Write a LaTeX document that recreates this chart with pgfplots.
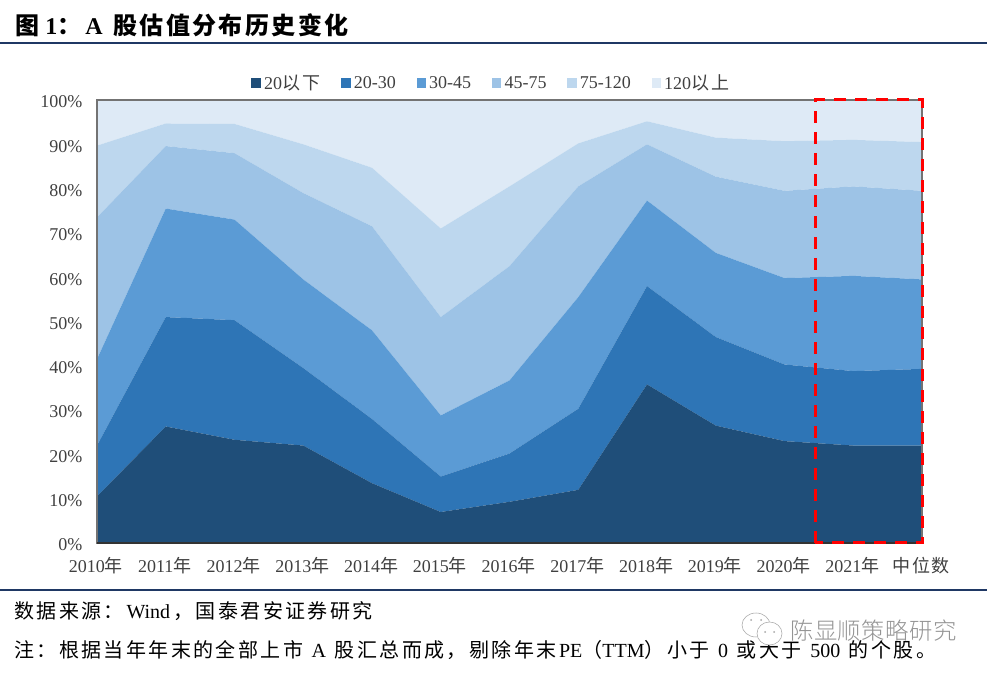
\documentclass[border=0pt]{standalone}
\usepackage{fontspec}
\usepackage{pgfplots}
\pgfplotsset{compat=1.18}
\setmainfont{Liberation Serif}
\newfontfamily\cjk{Noto Sans CJK SC}
\newfontfamily\cjkt[LetterSpace=10]{Noto Sans CJK SC}
\newfontfamily\cjkf[LetterSpace=6]{Noto Sans CJK SC}
\newfontfamily\cjkn[LetterSpace=12]{Noto Sans CJK SC}
\newfontfamily\cjkl[LetterSpace=14]{Noto Sans CJK SC}
\newfontfamily\cjkw[LetterSpace=2]{Noto Sans CJK SC Light}
\definecolor{c1}{HTML}{1F4E79}
\definecolor{c2}{HTML}{2E75B6}
\definecolor{c3}{HTML}{5B9BD5}
\definecolor{c4}{HTML}{9DC3E6}
\definecolor{c5}{HTML}{BDD7EE}
\definecolor{c6}{HTML}{DEEAF6}
\definecolor{rulec}{HTML}{1F3864}
\definecolor{txt}{HTML}{404040}
\newcommand{\gapx}{\hspace{6.5pt}}
\begin{document}
\begin{tikzpicture}[x=0.75pt,y=0.75pt]
\useasboundingbox (0,0) rectangle (987,673);
\fill[white] (0,0) rectangle (987,673);
% title and rules
\node[anchor=west,inner sep=0pt] at (15,648) {\fontsize{18}{20}\selectfont\bfseries{\cjkt\bfseries 图} 1{\cjkt\bfseries ^^^^ff1a}\hspace{3pt}A\hspace{3.5pt} {\cjkt\bfseries 股估值分布历史变化}};
\draw[rulec,line width=1.5pt] (0,630) -- (987,630);
\draw[rulec,line width=1.5pt] (0,83) -- (987,83);
\begin{axis}[
  at={(72.75pt,97.5pt)},anchor=south west,
  scale only axis,
  width=618.75pt,height=332.25pt,
  xmin=0,xmax=12,ymin=0,ymax=100,
  stack plots=y,
  clip=false,
  axis on top,
  axis line style={color=black!55,line width=0.8pt},
  tick style={draw=none},
  xtick={0,1,2,3,4,5,6,7,8,9,10,11,12},
  xticklabels={2010{\cjk 年},2011{\cjk 年},2012{\cjk 年},2013{\cjk 年},2014{\cjk 年},2015{\cjk 年},2016{\cjk 年},2017{\cjk 年},2018{\cjk 年},2019{\cjk 年},2020{\cjk 年},2021{\cjk 年},{\cjkf 中位数}},
  ytick={0,10,20,30,40,50,60,70,80,90,100},
  yticklabels={0\%,10\%,20\%,30\%,40\%,50\%,60\%,70\%,80\%,90\%,100\%},
  tick label style={font=\fontsize{13.5}{16}\selectfont,text=txt},
  yticklabel style={xshift=-7.5pt,yshift=-1.5pt},
  xticklabel style={yshift=-7.5pt,xshift=-0.75pt},
  legend columns=6,
  legend style={at={(0.479,1.038)},anchor=center,draw=none,fill=none,
    font=\fontsize{13.5}{15}\selectfont,text=txt,inner sep=0pt,
    /tikz/every even column/.append style={column sep=13pt},
    nodes={inner sep=2.5pt}},
  legend image code/.code={\fill[#1] (0pt,-3.4pt) rectangle (7pt,3.6pt);},
]
\addplot[fill=c1,draw=none] coordinates {(0,10.5)(1,26.3)(2,23.3)(3,22)(4,13.5)(5,7)(6,9.3)(7,12)(8,35.8)(9,26.5)(10,23)(11,22)(12,22)} \closedcycle;
\addplot[fill=c2,draw=none] coordinates {(0,11.5)(1,24.7)(2,27)(3,17.5)(4,14.5)(5,8)(6,10.9)(7,18.3)(8,22.2)(9,20)(10,17.3)(11,16.8)(12,17.3)} \closedcycle;
\addplot[fill=c3,draw=none] coordinates {(0,19.5)(1,24.5)(2,22.7)(3,20)(4,20)(5,13.8)(6,16.5)(7,25.2)(8,19.3)(9,19)(10,19.5)(11,21.5)(12,20.2)} \closedcycle;
\addplot[fill=c4,draw=none] coordinates {(0,32)(1,14.1)(2,15)(3,19.5)(4,23.5)(5,22.2)(6,25.8)(7,25)(8,12.7)(9,17.2)(10,19.7)(11,20.2)(12,20)} \closedcycle;
\addplot[fill=c5,draw=none] coordinates {(0,16.2)(1,5.1)(2,6.6)(3,11)(4,13.2)(5,20)(6,18)(7,9.7)(8,5.2)(9,8.8)(10,11.2)(11,10.5)(12,11)} \closedcycle;
\addplot[fill=c6,draw=none] coordinates {(0,10.3)(1,5.3)(2,5.4)(3,10)(4,15.3)(5,29)(6,19.5)(7,9.8)(8,4.8)(9,8.5)(10,9.3)(11,9)(12,9.5)} \closedcycle;
\legend{20{\cjkl 以下},20-30,30-45,45-75,75-120,120{\cjkl 以上}}
\end{axis}
\begin{axis}[
  at={(72.75pt,97.5pt)},anchor=south west,
  scale only axis,
  width=618.75pt,height=332.25pt,
  xmin=0,xmax=12,ymin=0,ymax=100,
  clip=false,axis lines=none,
]
\draw[black!80,line width=0.9pt] (axis cs:0,0) -- (axis cs:12,0);
\addplot[red,line width=2.25pt,dash pattern=on 9pt off 6.75pt] coordinates {(10.45,0)(10.45,100)(12,100)(12,0)(10.45,0)};
\end{axis}
% footer
\node[anchor=west,inner sep=0pt] at (14,62) {\fontsize{15}{18}\selectfont{\cjkn 数据来源^^^^ff1a}\hspace{2pt}Wind\hspace{2.5pt}{\cjkn ^^^^ff0c国泰君安证券研究}};
\node[anchor=west,inner sep=0pt] at (14,23) {\fontsize{15}{18}\selectfont{\cjkn 注^^^^ff1a根据当年年末的全部上市}\gapx A\gapx{\cjkn 股汇总而成^^^^ff0c剔除年末}\hspace{2pt}PE{\cjkn ^^^^ff08}TTM{\cjkn ^^^^ff09小于}\gapx 0\gapx{\cjkn 或大于}\gapx 500\gapx{\cjkn 的个股。}};
% watermark
\begin{scope}[draw=black!35,line width=0.4pt,fill=white]
\filldraw (756,48) ellipse (14 and 12);
\filldraw (769.5,39.5) ellipse (12.5 and 11.5);
\fill[black!35] (751,53) circle (1) (761,53) circle (1) (765,41) circle (1) (774,41) circle (1);
\end{scope}
\node[anchor=west,inner sep=0pt,text=black!42] at (790,42) {\fontsize{17.5}{20}\selectfont\cjkw 陈显顺策略研究};
\end{tikzpicture}
\end{document}
